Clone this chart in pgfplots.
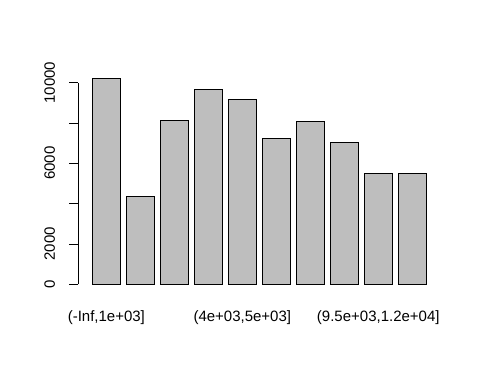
\documentclass[border=0pt]{standalone}
\usepackage{pgfplots}
\pgfplotsset{compat=1.18}
\usepackage{fontspec}
\setmainfont{Liberation Sans}
\definecolor{bargray}{RGB}{190,190,190}
\begin{document}
\fontsize{15bp}{18bp}\selectfont
\begin{tikzpicture}
\path[use as bounding box, fill=white] (0,0) rectangle (480bp,384bp);
\begin{axis}[
  at={(78.3bp,91.5bp)}, anchor=south west,
  scale only axis, width=362bp, height=222.5bp,
  xmin=-0.29, xmax=12.49, ymin=-409, ymax=10627,
  axis x line*=bottom, axis y line*=left,
  x axis line style={draw=none}, y axis line style={draw=none},
  xtick={0.7,5.5,10.3},
  xticklabels={{(-Inf,1e+03]},{(4e+03,5e+03]},{(9.5e+03,1.2e+04]}},
  xtick style={draw=none},
  ytick={0,2000,4000,6000,8000,10000},
  yticklabels={0,2000,,6000,,10000},
  scaled y ticks=false,
  ytick style={black, line width=0.8bp},
  tick align=outside, major tick length=9bp,
  yticklabel style={rotate=90, anchor=south, inner sep=0pt},
  yticklabel shift=14bp,
  xticklabel style={anchor=base, inner sep=0pt},
  xticklabel shift=19.5bp,
  /pgf/number format/assume math mode=true,
  /pgf/number format/1000 sep={},
  tick label style={font=\fontsize{15bp}{18bp}\selectfont},
  clip=false,
]
\addplot[ybar, bar width=1, fill=bargray, draw=black, line width=0.8bp] coordinates {
(0.7,10218) (1.9,4365) (3.1,8135) (4.3,9672) (5.5,9177)
(6.7,7242) (7.9,8085) (9.1,7044) (10.3,5506) (11.5,5506)
};
\draw[black, line width=0.8bp] (axis cs:-0.29,0) -- (axis cs:-0.29,10000);
\end{axis}
\end{tikzpicture}
\end{document}
